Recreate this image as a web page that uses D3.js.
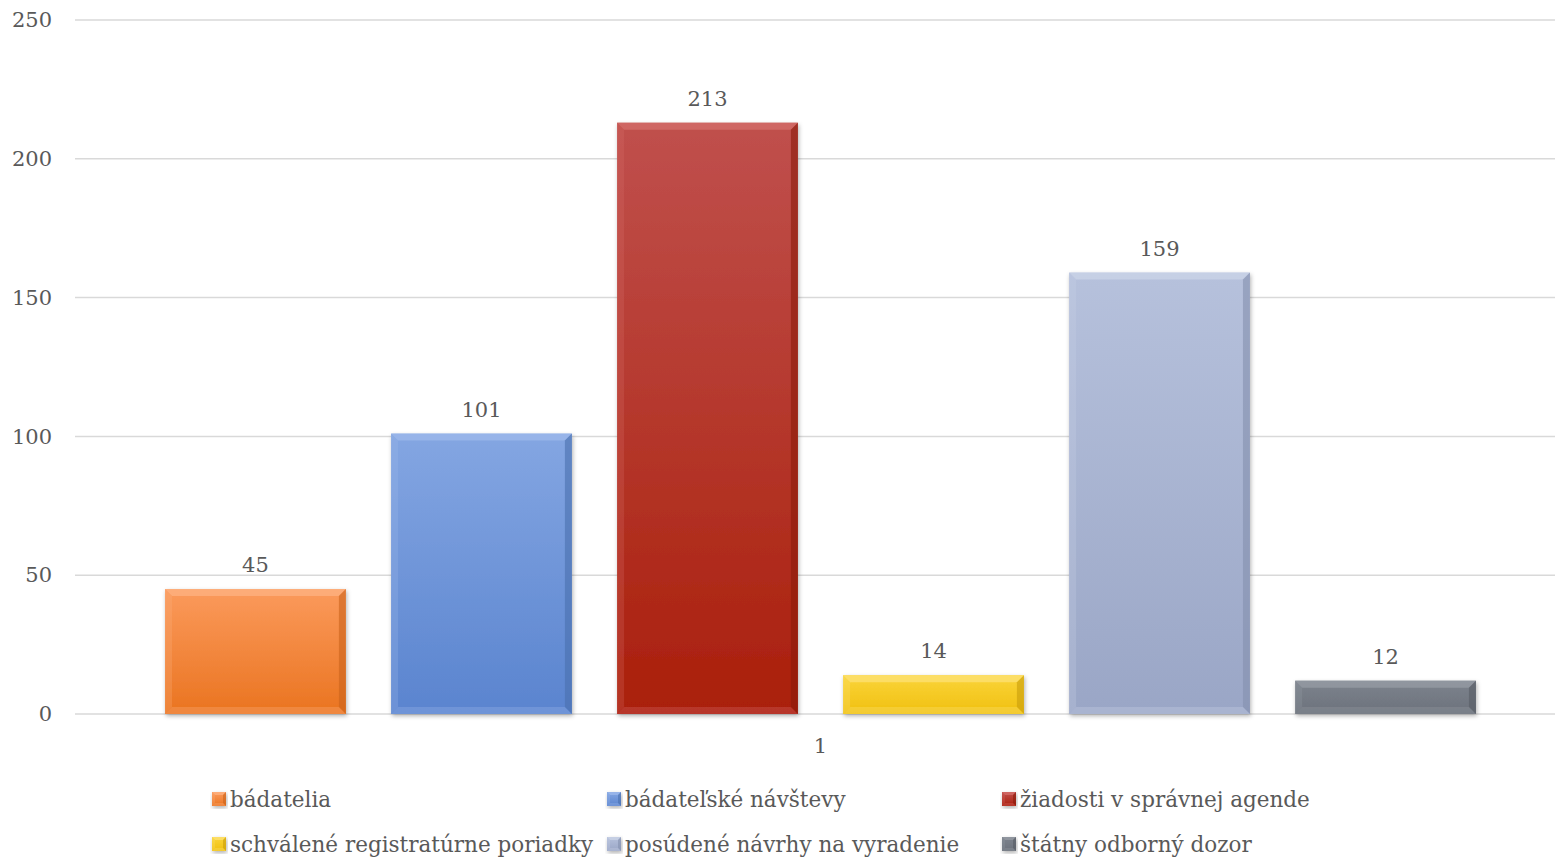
<!DOCTYPE html>
<html>
<head>
<meta charset="utf-8">
<script src="https://cdn.jsdelivr.net/npm/d3@7"></script>
<style>
  body { margin: 0; background: #fff; }
  text { font-family: "DejaVu Serif", "Liberation Serif", serif; fill: #595959; }
</style>
</head>
<body>
<div id="chart-area"><svg></svg></div>
<script>
const categories = ["1"];
const seriesNames = [
  "bádatelia",
  "bádateľské návštevy",
  "žiadosti v správnej agende",
  "schválené registratúrne poriadky",
  "posúdené návrhy na vyradenie",
  "štátny odborný dozor"
];
const seriesValues = [45, 101, 213, 14, 159, 12];
const yTicks = [0, 50, 100, 150, 200, 250];

// top / bottom / edge shades per series
const palette = [
  { top: "#fb9a5c", bottom: "#ea7420", light: "#fdb384", dark: "#c9621a" },
  { top: "#84a6e2", bottom: "#5a84cf", light: "#a0bbec", dark: "#4a6fae" },
  { top: "#c0504d", bottom: "#aa1f0b", light: "#d6706c", dark: "#8a1a0a" },
  { top: "#fad43a", bottom: "#f0c010", light: "#fde37a", dark: "#c89c0c" },
  { top: "#b6c1dc", bottom: "#9aa6c6", light: "#cdd5e8", dark: "#8490ad" },
  { top: "#7d838d", bottom: "#6c727c", light: "#999ea6", dark: "#575c64" }
];

const chartSize = { width: 1555, height: 857 };
const margin = { left: 75, right: 0, top: 20, bottom: 143 };
const plotH = chartSize.height - margin.top - margin.bottom;

const svg = d3.select("#chart-area svg")
  .attr("width", chartSize.width)
  .attr("height", chartSize.height);

const defs = svg.append("defs");
palette.forEach((p, i) => {
  const g = defs.append("linearGradient")
    .attr("id", "grad" + i)
    .attr("x1", 0).attr("y1", 0).attr("x2", 0).attr("y2", 1);
  g.append("stop").attr("offset", "0%").attr("stop-color", p.top);
  g.append("stop").attr("offset", "100%").attr("stop-color", p.bottom);
});
const shadow = defs.append("filter").attr("id", "shadow")
  .attr("x", "-10%").attr("y", "-10%").attr("width", "120%").attr("height", "130%");
shadow.append("feDropShadow")
  .attr("dx", 1).attr("dy", 2).attr("stdDeviation", 2)
  .attr("flood-color", "#000").attr("flood-opacity", 0.3);

const y = d3.scaleLinear().domain([0, 250]).range([margin.top + plotH, margin.top]);
const x0 = d3.scaleBand().domain(categories).range([75, 1566]).paddingOuter(0.0687);
const x1 = d3.scaleBand().domain(seriesNames).range([0, x0.bandwidth()]).paddingInner(0.2);

// grid
svg.append("g").selectAll("line").data(yTicks).join("line")
  .attr("x1", margin.left).attr("x2", chartSize.width)
  .attr("y1", d => y(d)).attr("y2", d => y(d))
  .attr("stroke", "#d9d9d9").attr("stroke-width", 1.5);

const yAxis = d3.axisLeft(y).tickValues(yTicks).tickSize(0).tickPadding(0);
svg.append("g")
  .attr("transform", "translate(52,0)")
  .call(yAxis)
  .call(g => g.select(".domain").remove())
  .call(g => g.selectAll("text")
    .attr("font-size", 21)
    .attr("fill", "#595959")
    .attr("font-family", "DejaVu Serif"));

// bevelled bar
const bevel = (g, x, yTop, w, h, i, b) => {
  const p = palette[i];
  b = Math.min(b, h / 2);
  g.append("rect").attr("x", x).attr("y", yTop).attr("width", w).attr("height", h)
    .attr("fill", `url(#grad${i})`).attr("filter", "url(#shadow)");
  const x2 = x + w, y2 = yTop + h;
  const poly = (pts, fill, op) => g.append("polygon")
    .attr("points", pts.map(q => q.join(",")).join(" "))
    .attr("fill", fill).attr("opacity", op);
  poly([[x, yTop], [x2, yTop], [x2 - b, yTop + b], [x + b, yTop + b]], p.light, 0.7);
  poly([[x2, yTop], [x2, y2], [x2 - b, y2 - b], [x2 - b, yTop + b]], p.dark, 0.6);
  poly([[x, y2], [x2, y2], [x2 - b, y2 - b], [x + b, y2 - b]], p.light, 0.3);
  poly([[x, yTop], [x + b, yTop + b], [x + b, y2 - b], [x, y2]], p.light, 0.25);
};

const group = svg.append("g").attr("transform", `translate(${x0("1")},0)`);
seriesNames.forEach((name, i) => {
  const v = seriesValues[i];
  const bx = x1(name), bw = x1.bandwidth();
  bevel(group.append("g"), bx, y(v), bw, y(0) - y(v), i, 7);
  group.append("text")
    .attr("x", bx + bw / 2).attr("y", y(v) - 17)
    .attr("text-anchor", "middle").attr("font-size", 21)
    .text(v);
});

// category label
svg.append("text")
  .attr("x", x0("1") + x0.bandwidth() / 2).attr("y", 753)
  .attr("text-anchor", "middle").attr("font-size", 21)
  .text(categories[0]);

// legend
const legend = svg.append("g");
seriesNames.forEach((name, i) => {
  const col = i % 3, row = Math.floor(i / 3);
  const lx = 212 + col * 395, ly = 799 + row * 45;
  bevel(legend.append("g"), lx, ly - 7, 14, 14, i, 3);
  legend.append("text")
    .attr("x", lx + 18).attr("y", ly + 8)
    .attr("font-size", 21.5)
    .text(name);
});
</script>
</body>
</html>
